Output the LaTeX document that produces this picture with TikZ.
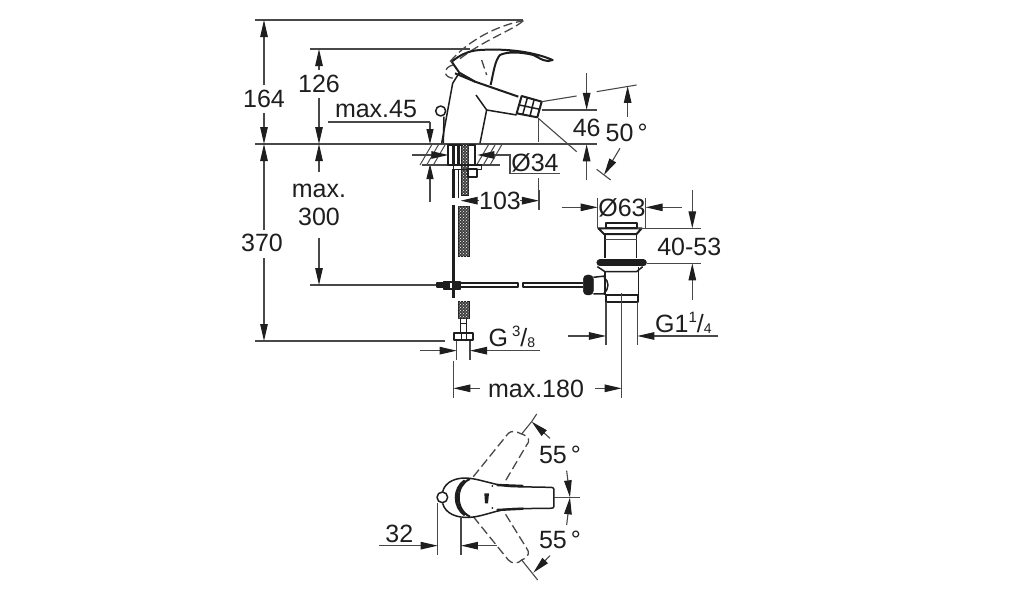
\documentclass[tikz,border=0pt]{standalone}
\usepackage{fontspec}
\setmainfont{Liberation Sans}
\usetikzlibrary{arrows.meta,patterns}
\definecolor{ink}{HTML}{1E1E1E}
\definecolor{dimc}{HTML}{484848}
\tikzset{
  dimline/.style={draw=dimc,line width=1.1pt},
  ext/.style={draw=dimc,line width=1.3pt},
  dimtip/.style={dimline,-{Triangle[length=17pt,width=7.5pt,color=ink]}},
  smalltip/.style={dimline,-{Triangle[length=15pt,width=7pt,color=ink]}},
  body/.style={draw=ink,line width=1.5pt,line join=round},
  bold/.style={draw=ink,line width=2pt,line join=round},
  ghost/.style={draw=dimc,line width=1.3pt,dash pattern=on 9pt off 4pt},
  lab/.style={text=ink,inner sep=0pt,font=\fontsize{25}{28}\selectfont},
  braid/.style={draw=ink,line width=.9pt,fill=ink!85,postaction={pattern=crosshatch dots,pattern color=white}},
  hatch/.style={draw=dimc,line width=1pt},
  z1/.style={shift={(400,10)},x=.3333pt,y=-.3333pt},
  z2/.style={shift={(420,190)},x=.3333pt,y=-.3333pt},
  z3/.style={shift={(370,410)},x=.3333pt,y=-.3333pt},
}
\begin{document}
\begin{tikzpicture}[x=1pt,y=-1pt]
\useasboundingbox[fill=white] (0,0) rectangle (1014,600);
% long extension lines
\draw[ext] (255,20) -- (523,20);
\draw[ext] (310,49) -- (470,49);
\draw[ext] (255,144) -- (597,144);
\draw[ext] (255,341) -- (445,341);
\draw[ext] (310,285) -- (440,285);
\draw[ext] (328,122) -- (430,122);
% left dimensions
\draw[dimtip] (264,85) -- (264,20);
\draw[dimtip] (264,113) -- (264,144);
\draw[dimtip] (264,230) -- (264,144);
\draw[dimtip] (264,258) -- (264,341);
\draw[dimtip] (319,70) -- (319,49);
\draw[dimtip] (319,98) -- (319,144);
\draw[dimtip] (319,172) -- (319,144);
\draw[dimtip] (319,238) -- (319,285);
\draw[smalltip] (430,122) -- (430,144);
\draw[smalltip] (430,202) -- (430,164);
\node[lab] (t164) at (264,99) {164};
\node[lab] (t370) at (262,243) {370};
\node[lab] (t126) at (319,84) {126};
\node[lab] (t45) at (376,109) {max.45};
\node[lab,align=center] (t300) at (319,205) {max.\\300};
% faucet
\begin{scope}[z1]
\draw[ghost] (150,155) .. controls (210,85) and (300,45) .. (370,32);
\draw[ghost] (370,32) .. controls (340,60) and (250,90) .. (175,150);
\draw[ghost] (160,165) .. controls (130,170) and (125,205) .. (165,205);
\draw[ghost] (245,150) -- (260,195);
\draw[bold] (155,155) .. controls (180,135) and (205,122) .. (240,120) .. controls (320,115) and (400,125) .. (458,150) .. controls (440,160) and (420,145) .. (400,135) .. controls (360,125) and (320,125) .. (300,135) .. controls (285,150) and (280,190) .. (272,225);
\draw[bold] (155,155) -- (178,188) -- (225,215);
\draw[body] (125,400) -- (158,220) -- (178,188);
\draw[bold] (165,190) -- (225,215) -- (355,260);
\draw[body] (228,255) -- (260,300) -- (350,315);
\draw[body] (240,400) -- (260,300);
\draw[body] (130,400) -- (132,320);
\draw[body] (122,303) circle[radius=15];
\draw[bold] (365,258) -- (425,275) -- (412,322) -- (350,310) -- cycle;
\draw[body] (382,264) -- (368,314) (402,270) -- (390,318) (358,285) -- (420,298);
% dimensions
\draw[dimline] (425,275) -- (530,258) (590,245) -- (710,225);
\draw[dimline] (425,300) -- (590,300);
\draw[dimline] (415,325) -- (415,395) (415,505) -- (415,570);
\draw[dimline] (415,325) -- (530,425);
\draw[dimtip] (560,190) -- (560,300);
\draw[dimtip] (560,510) -- (560,403);
\draw[dimtip] (683,320) -- (683,228);
\draw[dimtip] (660,415) -- (612,495);
\draw[dimline] (590,478) -- (632,510);
\node[lab] (t46) at (560,353) {46};
\node[lab] (t50) at (680,370) {50\,°};
% counter
\draw[ext] (60,403) -- (300,403);
\draw[ext] (65,465) -- (300,465);
\foreach \a in {75,95,115,245,265,285}{\draw[hatch] (\a-15,465) -- (\a+20,405);}
\draw[dimtip] (35,435) -- (145,435);
\draw[dimline] (305,435) -- (330,435) -- (330,490) -- (480,490);
\draw[dimtip] (305,435) -- (232,435);
\node[lab] (t34) at (405,459) {Ø34};
% shank
\draw[bold] (145,405) rectangle (225,465);
\draw[line width=3pt,draw=ink] (160,405) -- (160,465) (175,405) -- (175,465);
\draw[braid] (185,405) rectangle (205,555);
\draw[body] (160,465) rectangle (245,478);
\draw[bold] (205,478) rectangle (232,500);
\draw[line width=3pt,draw=ink] (160,478) -- (160,565);
\draw[body] (175,480) -- (175,565);
\end{scope}
% supply
\begin{scope}[z2]
\draw[line width=3pt,draw=ink] (100,45) -- (100,325);
\draw[braid] (115,50) rectangle (147,200);
\draw[braid] (115,333) rectangle (147,385);
\draw[body] (122,385) -- (122,430) (140,385) -- (140,430) (122,400) -- (140,400);
\draw[bold] (103,430) -- (158,430) -- (158,450) -- (103,450) -- cycle;
\draw[body] (125,430) -- (125,450) (140,430) -- (140,450);
\draw[bold,fill=ink] (52,280) rectangle (72,292);
\draw[bold] (72,276) rectangle (120,296);
\draw[bold,fill=ink] (72,276) rectangle (88,296);
\draw[bold,fill=ink] (108,276) rectangle (120,296);
\draw[bold] (120,280) -- (295,280) -- (295,290) -- (120,290);
\draw[bold] (490,280) -- (310,280) -- (310,290) -- (490,290);
\draw[ink,fill=ink,rounded corners=4pt] (490,255) -- (520,255) -- (520,315) -- (490,315) -- cycle;
\draw[body] (520,262) -- (555,258) (520,312) -- (555,312);
\draw[body] (552,262) .. controls (568,275) and (568,295) .. (552,310);
% drain
\draw[bold] (557,100) rectangle (650,113);
\draw[bold] (535,115) -- (665,115) -- (650,132) -- (552,132) -- cycle;
\draw[body] (555,132) -- (555,205) (650,132) -- (650,205);
\draw[dimline] (555,148) -- (650,148);
\draw[draw=ink,line width=7pt,line cap=round] (540,219) -- (670,219);
\draw[body] (532,230) -- (555,245) -- (650,245) -- (668,230);
\draw[body] (555,245) -- (555,315) (655,230) -- (655,315);
\draw[bold] (558,315) rectangle (655,335);
% dims
\draw[dimline] (533,25) -- (533,115) (677,25) -- (677,115);
\draw[dimtip] (425,52) -- (533,52);
\draw[dimtip] (785,52) -- (677,52);
\node[lab] (t63) at (606,55) {Ø63};
\draw[dimline] (650,115) -- (842,115) (680,220) -- (842,220);
\draw[dimtip] (817,0) -- (817,115);
\draw[dimtip] (817,330) -- (817,220);
\node[lab] (t40) at (808,170) {40-53};
\draw[dimline] (558,335) -- (558,465) (652,335) -- (652,465);
\draw[dimline] (605,310) -- (605,625);
\draw[dimtip] (445,438) -- (558,438);
\draw[dimtip] (895,438) -- (652,438);
\node[lab,anchor=west] (tg1) at (705,398) {G1\raisebox{10pt}{\fontsize{15}{15}\selectfont 1}/\raisebox{-1pt}{\fontsize{14}{14}\selectfont 4}};
\draw[dimline] (110,452) -- (110,510) (150,452) -- (150,510);
\draw[dimtip] (0,482) -- (110,482);
\draw[dimtip] (360,482) -- (150,482);
\node[lab,anchor=west] (tg3) at (205,442) {G\,\raisebox{10pt}{\fontsize{15}{15}\selectfont 3}/\raisebox{-1pt}{\fontsize{14}{14}\selectfont 8}};
\draw[dimline] (100,512) -- (100,625);
\draw[dimtip] (180,595) -- (100,595);
\draw[dimtip] (525,595) -- (605,595);
\node[lab] (t180) at (348,596) {max.180};
\draw[dimtip] (178,32) -- (122,32);
\draw[dimtip] (300,32) -- (357,32);
\draw[dimline] (357,0) -- (357,60);
\node[lab] (t103) at (240,34) {103};
\end{scope}
% top view
\begin{scope}[z3]
\draw[ghost] (310,200) -- (415,70) .. controls (425,60) and (440,65) .. (455,72) .. controls (480,80) and (480,95) .. (470,105) -- (405,215);
\draw[ghost] (310,320) -- (415,450) .. controls (425,462) and (445,462) .. (455,450) .. controls (480,440) and (478,425) .. (470,415) -- (405,310);
\draw[body] (218,245) .. controls (225,215) and (260,200) .. (300,205) .. controls (340,210) and (380,228) .. (430,230) -- (540,232) .. controls (552,232) and (552,235) .. (552,245) -- (552,285) .. controls (552,295) and (548,295) .. (540,295) -- (430,296) .. controls (380,298) and (340,320) .. (300,322) .. controls (260,325) and (225,310) .. (218,280);
\draw[bold] (300,207) .. controls (255,225) and (255,300) .. (300,320);
\draw[line width=3pt,draw=ink] (285,212) .. controls (250,235) and (250,290) .. (285,315);
\draw[line width=2.4pt,draw=ink] (380,225) -- (460,228) (380,300) -- (460,296);
\draw[body,fill=white] (217,262) circle[radius=16];
\fill[ink] (343,250) -- (357,250) -- (354,280) -- (345,280) -- cycle;
\fill[ink] (367,228) circle[radius=3] (367,294) circle[radius=3];
% dims
\draw[dimline] (552,262) -- (630,262);
\draw[dimline] (203,280) -- (203,435) (273,320) -- (273,435);
\draw[dimtip] (28,407) -- (203,407);
\draw[dimtip] (382,407) -- (273,407);
\node[lab] (t32) at (88,373) {32};
\draw[dimline] (455,72) -- (485,35) (500,12) -- (485,35);
\draw[dimtip] (540,85) -- (485,35);
\draw[dimline] (455,450) -- (503,510);
\draw[dimtip] (540,437) -- (490,488);
\draw[dimtip] (590,182) -- (600,262);
\draw[dimtip] (590,345) -- (600,262);
\node[lab] (t55a) at (570,136) {55\,°};
\node[lab] (t55b) at (570,390) {55\,°};
\end{scope}
\end{tikzpicture}
\end{document}
